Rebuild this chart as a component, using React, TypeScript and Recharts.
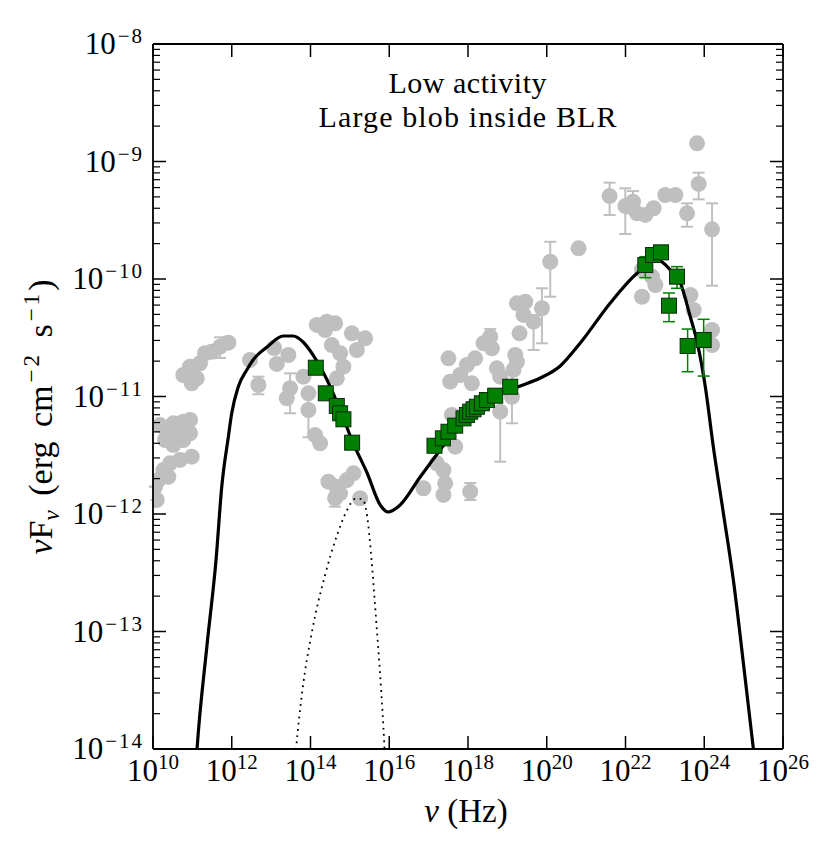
import React from 'react';
import { ComposedChart, XAxis, YAxis, Line, Scatter, ErrorBar } from 'recharts';

// All values are log10(nu / Hz) and log10(nuF_nu / erg cm^-2 s^-1)
const xTickExps = [10, 12, 14, 16, 18, 20, 22, 24, 26];
const yMajorExps = [-14, -13, -12, -11, -10, -9, -8];

// Model SED (solid black line)
const modelNu = [10.94, 11.118, 11.372, 11.601, 11.746, 11.914, 11.999, 12.166, 12.381, 12.541, 12.897, 13.304, 13.558, 13.812, 14.066, 14.422, 14.752, 15.083, 15.438, 15.769, 15.972, 16.277, 16.785, 17.293, 17.802, 18.31, 18.818, 19.327, 19.835, 20.343, 20.851, 21.614, 22.3, 22.808, 23.139, 23.393, 23.647, 23.825, 24.028, 24.231, 24.485, 24.739, 25.044, 25.248, 25.375];
const modelFlux = [-14.996, -14.0, -13.115, -12.391, -11.768, -11.342, -11.143, -10.917, -10.774, -10.689, -10.579, -10.485, -10.485, -10.536, -10.647, -10.86, -11.115, -11.396, -11.651, -11.923, -11.983, -11.923, -11.685, -11.455, -11.234, -11.081, -10.979, -10.911, -10.843, -10.74, -10.545, -10.204, -9.949, -9.838, -9.923, -10.034, -10.323, -10.545, -10.919, -11.43, -11.991, -12.562, -13.413, -14.0, -14.349];

// Accretion disk component (dotted)
const diskNu = [13.532, 13.634, 13.786, 14.041, 14.371, 14.676, 14.93, 15.133, 15.311, 15.438, 15.54, 15.667, 15.794, 15.87, 15.921];
const diskFlux = [-14.434, -14.0, -13.523, -12.996, -12.519, -12.179, -11.966, -11.872, -11.872, -12.017, -12.349, -12.902, -13.498, -13.94, -14.349];

// Simultaneous data (green squares)
const greenNu = [14.135, 14.389, 14.668, 14.752, 14.836, 15.057, 17.149, 17.362, 17.504, 17.675, 17.886, 17.972, 18.056, 18.14, 18.226, 18.353, 18.48, 18.691, 19.072, 22.503, 22.699, 22.902, 23.308, 23.105, 23.578, 23.985];
const greenFlux = [-10.755, -10.973, -11.081, -11.143, -11.194, -11.393, -11.419, -11.356, -11.3, -11.248, -11.186, -11.157, -11.129, -11.109, -11.087, -11.058, -11.03, -10.993, -10.917, -9.881, -9.796, -9.773, -9.98, -10.227, -10.57, -10.519];
const greenErrLo = [0, 0, 0, 0, 0, 0, 0, 0, 0, 0, 0, 0, 0, 0, 0, 0, 0, 0, 0, 0.108, 0, 0, 0.099, 0.136, 0.219, 0.307];
const greenErrHi = [0, 0, 0, 0, 0, 0, 0, 0, 0, 0, 0, 0, 0, 0, 0, 0, 0, 0, 0, 0.071, 0, 0, 0.085, 0.108, 0.144, 0.176];

// Archival data (grey circles)
const greyNu = [11.914, 11.703, 11.492, 11.321, 11.194, 10.94, 10.77, 10.983, 11.111, 10.94, 10.77, 10.516, 10.348, 10.305, 10.516, 10.77, 10.94, 10.983, 10.432, 10.262, 10.135, 10.389, 10.094, 10.051, 10.178, 10.559, 10.686,
  12.465, 12.676, 13.144, 13.075, 13.438, 13.482, 13.398, 13.82, 13.947, 13.947, 14.117, 14.244, 14.16, 14.414, 14.625, 14.371, 14.541, 14.752, 14.836, 14.668, 15.05, 15.388, 15.177, 14.455, 14.668, 14.752, 14.922, 15.09, 14.625, 15.26,
  20.089, 20.808, 19.243, 19.454, 19.878, 19.665, 19.41, 19.309, 18.564, 18.394, 18.607, 18.183, 17.972, 17.504, 17.802, 17.548, 18.099, 18.734, 19.2, 19.243, 19.156, 18.818, 19.116, 18.818, 17.591, 17.675, 17.377, 17.21, 17.421, 17.377, 16.869, 18.056,
  21.596, 21.995, 22.19, 22.292, 22.503, 22.714, 23.011, 23.266, 23.563, 23.858, 23.817, 24.198, 22.419, 22.673, 22.757, 22.419, 23.647, 23.731, 24.198, 24.198];
const greyFlux = [-10.542, -10.576, -10.619, -10.632, -10.717, -10.746, -10.817, -10.888, -10.845, -11.2, -11.214, -11.228, -11.285, -11.37, -11.413, -11.37, -11.313, -11.512, -11.569, -11.626, -11.711, -11.683, -11.881, -11.768, -11.243, -11.302, -11.54,
  -10.689, -10.902, -10.723, -10.587, -10.647, -10.93, -11.015, -10.831, -10.973, -11.115, -11.328, -11.398, -10.391, -10.363, -10.377, -10.434, -10.562, -10.632, -10.746, -10.845, -10.462, -10.505, -10.604, -11.725, -11.768, -11.824, -11.711, -11.654, -11.866, -11.866,
  -9.853, -9.739, -10.207, -10.193, -10.249, -10.363, -10.306, -10.462, -10.491, -10.547, -10.59, -10.675, -10.732, -10.675, -10.817, -10.874, -10.888, -10.76, -10.647, -10.704, -10.774, -10.831, -11.002, -11.129, -11.157, -11.427, -11.626, -11.569, -11.739, -11.838, -11.781, -11.81,
  -9.294, -9.379, -9.342, -9.441, -9.455, -9.398, -9.285, -9.285, -9.441, -9.191, -8.845, -9.577, -9.923, -9.98, -10.051, -10.151, -10.136, -10.264, -10.434, -10.562];
const greyErrLo = [0, 0.096, 0, 0, 0, 0, 0, 0, 0, 0, 0, 0, 0, 0, 0, 0, 0, 0, 0, 0, 0, 0, 0, 0, 0, 0, 0,
  0, 0.079, 0, 0, 0, 0.213, 0, 0, 0, 0.232, 0, 0, 0, 0, 0, 0, 0, 0, 0, 0, 0, 0, 0, 0, 0, 0, 0, 0, 0.072, 0,
  0.298, 0, 0, 0, 0.298, 0.241, 0, 0, 0.06, 0, 0, 0, 0, 0, 0, 0, 0, 0, 0, 0, 0, 0, 0.226, 0.426, 0, 0, 0, 0, 0, 0, 0, 0.071,
  0.161, 0.238, 0.1, 0, 0, 0, 0, 0, 0.114, 0.131, 0, 0.48, 0, 0, 0, 0, 0, 0, 0, 0];
const greyErrHi = [0, 0.08, 0, 0, 0, 0, 0, 0, 0, 0, 0, 0, 0, 0, 0, 0, 0, 0, 0, 0, 0, 0, 0, 0, 0, 0, 0,
  0, 0.071, 0, 0, 0, 0.127, 0, 0, 0, 0.15, 0, 0, 0, 0, 0, 0, 0, 0, 0, 0, 0, 0, 0, 0, 0, 0, 0, 0, 0.05, 0,
  0.17, 0, 0, 0, 0.17, 0.05, 0, 0, 0.065, 0, 0, 0, 0, 0, 0, 0, 0, 0, 0, 0, 0, 0, 0.199, 0.184, 0, 0, 0, 0, 0, 0, 0, 0.074,
  0.114, 0.151, 0.09, 0, 0, 0, 0, 0, 0.085, 0.096, 0, 0.221, 0, 0, 0, 0, 0, 0, 0, 0];

const titleLines = ['Low activity', 'Large blob inside BLR'];

const modelData = modelNu.map((x, i) => ({ x, y: modelFlux[i] }));
const diskData = diskNu.map((x, i) => ({ x, y: diskFlux[i] }));
const greenData = greenNu.map((x, i) => ({ x, y: greenFlux[i], err: [greenErrLo[i], greenErrHi[i]] }));
const greyData = greyNu.map((x, i) => ({ x, y: greyFlux[i], err: [greyErrLo[i], greyErrHi[i]] }));

const yTicks: number[] = [];
yMajorExps.forEach((d) => {
  yTicks.push(d);
  if (d < -8) for (let k = 2; k <= 9; k++) yTicks.push(d + Math.log10(k));
});

const FONT = "'Liberation Serif', 'DejaVu Serif', serif";
const SERIF = { fontFamily: FONT };
const isMajor = (v: number) => Math.abs(v - Math.round(v)) < 1e-6;
const expText = (n: number) => (n < 0 ? '\u2212' + Math.abs(n) : String(n));

const BottomTick = (props: any) => {
  const { x, y, payload } = props;
  return (
    <g>
      <line x1={x} y1={y} x2={x} y2={y - 13} stroke="#000" strokeWidth={1.5} />
      <text x={x} y={y + 32} textAnchor="middle" style={SERIF} fontSize={31} fill="#000">
        10<tspan dy={-12} fontSize={21}>{expText(Math.round(payload.value))}</tspan>
      </text>
    </g>
  );
};
const TopTick = (props: any) => {
  const { x, y } = props;
  return <line x1={x} y1={y} x2={x} y2={y + 13} stroke="#000" strokeWidth={1.5} />;
};
const LeftTick = (props: any) => {
  const { x, y, payload } = props;
  const major = isMajor(payload.value);
  return (
    <g>
      <line x1={x} y1={y} x2={x + (major ? 13 : 7)} y2={y} stroke="#000" strokeWidth={major ? 1.5 : 1.2} />
      {major && (
        <text x={x - 9} y={y + 10} textAnchor="end" style={SERIF} fontSize={31} fill="#000">
          10<tspan dx={2} dy={-11} fontSize={21} letterSpacing={2}>{expText(Math.round(payload.value))}</tspan>
        </text>
      )}
    </g>
  );
};
const RightTick = (props: any) => {
  const { x, y, payload } = props;
  const major = isMajor(payload.value);
  return <line x1={x} y1={y} x2={x - (major ? 13 : 7)} y2={y} stroke="#000" strokeWidth={major ? 1.5 : 1.2} />;
};

const GreyDot = (p: any) => <circle cx={p.cx} cy={p.cy} r={8} fill="#bfbfbf" />;
const GreenSquare = (p: any) => (
  <rect x={p.cx - 7.5} y={p.cy - 7.5} width={15} height={15} fill="#008000" stroke="#0b2a0b" strokeWidth={1} />
);

const axisLine = { stroke: '#000', strokeWidth: 1.8 };

export default function App() {
  return (
    <div style={{ position: 'absolute', left: 0, top: 0, width: 830, height: 848, background: '#fff' }}>
      <ComposedChart width={830} height={848} margin={{ top: 43, right: 46, bottom: 0, left: 0 }}>
        <XAxis xAxisId="b" dataKey="x" type="number" domain={[10, 26]} ticks={xTickExps} interval={0}
          allowDataOverflow height={99} axisLine={axisLine} tickLine={false} tickSize={0} tickMargin={0} tick={BottomTick} />
        <XAxis xAxisId="t" orientation="top" dataKey="x" type="number" domain={[10, 26]} ticks={xTickExps} interval={0}
          allowDataOverflow height={1} axisLine={axisLine} tickLine={false} tickSize={0} tickMargin={0} tick={TopTick} />
        <YAxis yAxisId="l" dataKey="y" type="number" domain={[-14, -8]} ticks={yTicks} interval={0}
          allowDataOverflow width={153} axisLine={axisLine} tickLine={false} tickSize={0} tickMargin={0} tick={LeftTick} />
        <YAxis yAxisId="r" orientation="right" dataKey="y" type="number" domain={[-14, -8]} ticks={yTicks} interval={0}
          allowDataOverflow width={1} axisLine={axisLine} tickLine={false} tickSize={0} tickMargin={0} tick={RightTick} />
        <Scatter xAxisId="b" yAxisId="l" data={greyData} shape={GreyDot} isAnimationActive={false} zIndex={100}>
          <ErrorBar dataKey="err" direction="y" width={6} stroke="#bfbfbf" strokeWidth={2} />
        </Scatter>
        <Line xAxisId="b" yAxisId="l" data={diskData} dataKey="y" type="monotone" stroke="#000" strokeWidth={1.8}
          strokeDasharray="1.8 4.5" dot={false} activeDot={false} isAnimationActive={false} zIndex={400} />
        <Line xAxisId="b" yAxisId="l" data={modelData} dataKey="y" type="monotone" stroke="#000" strokeWidth={3.2}
          dot={false} activeDot={false} isAnimationActive={false} zIndex={400} />
        <Scatter xAxisId="b" yAxisId="l" data={greenData} shape={GreenSquare} isAnimationActive={false} zIndex={600}>
          <ErrorBar dataKey="err" direction="y" width={6} stroke="#008000" strokeWidth={1.5} />
        </Scatter>
      </ComposedChart>
      <svg width={830} height={848} style={{ position: 'absolute', left: 0, top: 0, pointerEvents: 'none' }}>
        <text x={467.5} y={93} textAnchor="middle" style={SERIF} fontSize={30} fill="#000"
          textLength={158} lengthAdjust="spacing">{titleLines[0]}</text>
        <text x={467.5} y={127} textAnchor="middle" style={SERIF} fontSize={30} fill="#000"
          textLength={298} lengthAdjust="spacing">{titleLines[1]}</text>
        <text x={466} y={822} textAnchor="middle" style={SERIF} fontSize={33} fill="#000">
          <tspan fontStyle="italic">ν</tspan> (Hz)
        </text>
        <text transform="translate(52,417) rotate(-90)" x={0} y={0} textAnchor="middle" style={{ ...SERIF, wordSpacing: 6 }} fontSize={34} fill="#000">
          <tspan fontStyle="italic">ν</tspan>F<tspan fontStyle="italic" fontSize={23} dy={7}>ν</tspan>
          <tspan dy={-7}> (erg cm</tspan><tspan fontSize={23} dy={-13} dx={3} letterSpacing={3}>−2</tspan>
          <tspan dy={13}> s</tspan><tspan fontSize={23} dy={-13} dx={3} letterSpacing={3}>−1</tspan><tspan dy={13}>)</tspan>
        </text>
      </svg>
    </div>
  );
}
